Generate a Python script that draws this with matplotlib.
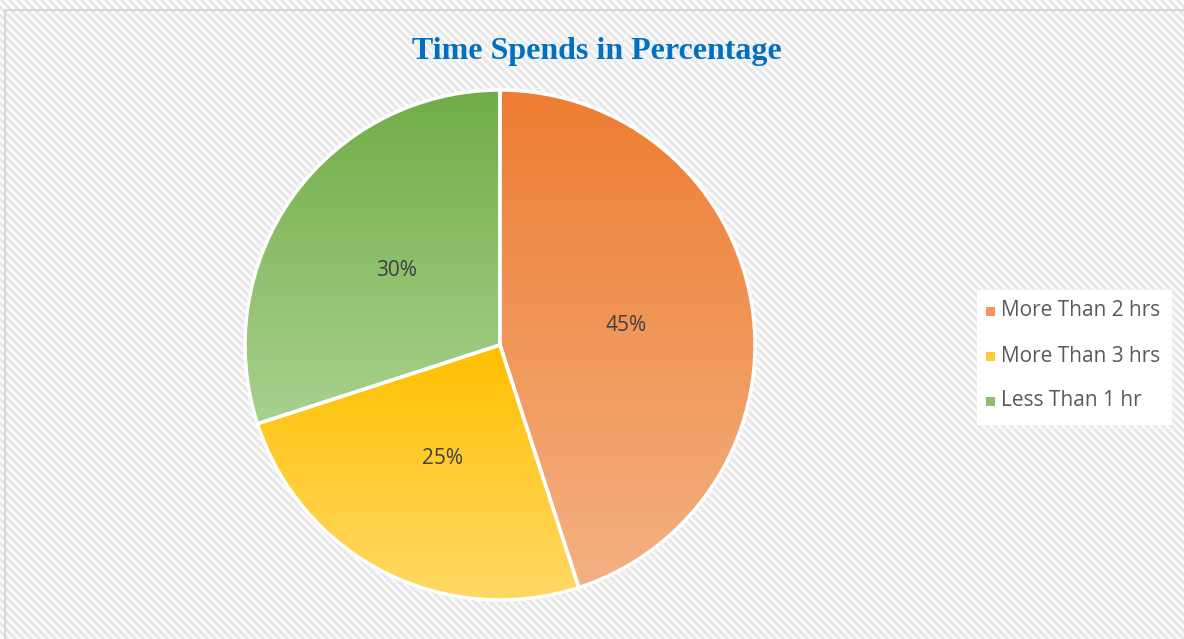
import numpy as np
import matplotlib
matplotlib.use("Agg")
import matplotlib.pyplot as plt
from matplotlib.colors import LinearSegmentedColormap, to_rgb
from matplotlib.patches import Rectangle
from matplotlib.collections import LineCollection

# Data
categories = ["More Than 2 hrs", "More Than 3 hrs", "Less Than 1 hr"]
shares = [45, 25, 30]
top_colors = ["#ED7D31", "#FFC000", "#70AD47"]
bottom_colors = ["#F4B183", "#FFD966", "#A9D18E"]
title = "Time Spends in Percentage"

W, H = 1184, 639
fig = plt.figure(figsize=(W / 100, H / 100), dpi=100)
fig.patch.set_facecolor("white")

# Background panel with diagonal stripes
bg = fig.add_axes([0, 0, 1, 1])
bg.set_xlim(0, W)
bg.set_ylim(H, 0)
bg.axis("off")
px0, py0 = 5, 10
panel = Rectangle((px0, py0), W - px0, H - py0, facecolor="#FCFCFC",
                  edgecolor="none", zorder=0)
bg.add_patch(panel)
segs = []
step = 8
for s in np.arange(-H, W + H, step):
    segs.append([(s, 0), (s + H, H)])
lc = LineCollection(segs, colors="#E9E9E9", linewidths=2.4, zorder=1)
lc.set_clip_path(panel)
bg.add_collection(lc)
bg.add_patch(Rectangle((px0, py0), W - px0 + 5, H - py0 + 5, facecolor="none",
                       edgecolor="#D9D9D9", linewidth=1.6, zorder=2))

# Legend box
bg.add_patch(Rectangle((977, 290), 195, 135, facecolor="white",
                       edgecolor="none", zorder=3))
legend_font = "Open Sans"
for i, (lab, ct, cb) in enumerate(zip(categories, top_colors, bottom_colors)):
    y = 311 + i * 45
    mid = np.mean([to_rgb(ct), to_rgb(cb)], axis=0)
    bg.add_patch(Rectangle((986, y - 4.5), 9, 9, facecolor=mid,
                           edgecolor="none", zorder=4))
    bg.text(1001, y, lab, fontsize=15, family=legend_font, color="#595959",
            va="center", ha="left", zorder=4)

# Title
fig.text(597 / W, 1 - 52 / H, title, family="Liberation Serif", fontweight="bold",
         fontsize=23, color="#0070C0", ha="center", va="center")

# Pie
cx, cy, r = 500, 345, 255
ax = fig.add_axes([(cx - r) / W, (H - cy - r) / H, 2 * r / W, 2 * r / H])
wedges, texts, autotexts = ax.pie(
    shares, startangle=90, counterclock=False, radius=1,
    autopct="%1.0f%%", pctdistance=0.5,
    wedgeprops=dict(edgecolor="white", linewidth=2.5, clip_on=False),
    textprops=dict(family=legend_font, fontsize=15, color="#404040"))
ax.axis("off")

grad = np.linspace(0, 1, 256).reshape(-1, 1)
for w, ct, cb in zip(wedges, top_colors, bottom_colors):
    w.set_facecolor("none")
    ext = w.get_path().get_extents()
    cmap = LinearSegmentedColormap.from_list("g", [cb, ct])
    im = ax.imshow(grad, cmap=cmap, aspect="auto",
                   extent=[ext.x0, ext.x1, ext.y0, ext.y1], origin="lower",
                   zorder=w.get_zorder() - 0.1)
    im.set_clip_path(w)
ax.set_xlim(-1.0, 1.0)
ax.set_ylim(-1.0, 1.0)
ax.set_aspect("equal")
for t in autotexts:
    t.set_zorder(5)

fig.savefig("out.png", dpi=100, facecolor="white")
